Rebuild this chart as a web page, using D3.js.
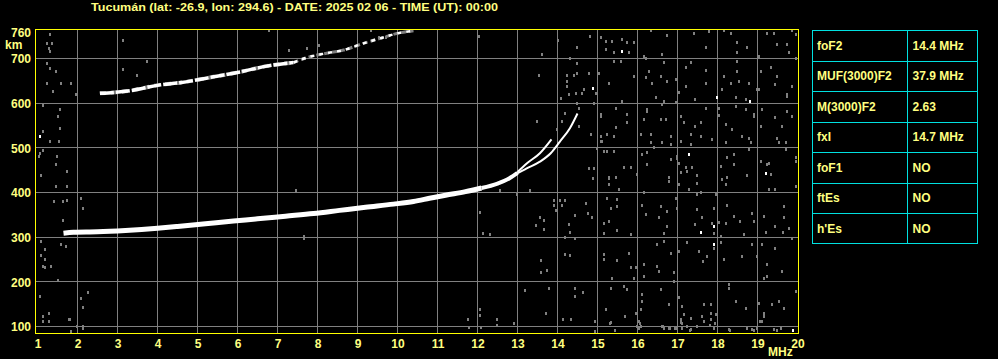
<!DOCTYPE html>
<html><head><meta charset="utf-8">
<script src="https://cdn.jsdelivr.net/npm/d3@7"></script>
<style>html,body{margin:0;padding:0;background:#000;overflow:hidden}svg{display:block}</style>
</head><body>
<svg id="chart" width="998" height="359"></svg>
<script>
// ---------- DATA ----------
const titleText = "Tucumán (lat: -26.9, lon: 294.6) - DATE: 2025 02 06 - TIME (UT): 00:00";
const freqTicks = [1,2,3,4,5,6,7,8,9,10,11,12,13,14,15,16,17,18,19,20];
const heightTicks = [760,700,600,500,400,300,200,100];
const heightGrid = [100,200,300,400,500,600,700];
const freqUnit = "MHz";
const heightUnit = "km";

// first-hop F2 trace [MHz, km]
const traceMain = [[1.65,309],[1.9,311],[2.5,312],[3.2,315],[4.0,320],[4.5,324],[5.2,330],[5.9,336],[6.5,341],[7.2,347],[7.9,353],[8.55,360],[9.2,367],[9.9,374],[10.4,380],[10.8,387],[11.2,394],[11.7,402],[12.1,410]];
const traceUpper = [[12.1,410],[12.5,420],[12.8,432],[13.0,444]];
const branchO = [[13.0,446],[13.23,465],[13.56,488],[13.85,519]];
const branchX = [[13.0,443],[13.23,454],[13.56,469],[13.83,488],[14.06,514],[14.31,544],[14.5,577]];
// second-hop trace
const hop2Solid = [[2.56,622],[3.31,628],[4.06,641],[4.56,646],[5.40,659],[6.06,670],[6.73,683],[7.40,691]];
const hop2Broken = [[7.40,691],[7.73,702],[8.23,712],[8.65,719],[9.15,734],[9.56,745],[9.98,756],[10.40,762]];

// scaled parameters table
const paramNames = ["foF2","MUF(3000)F2","M(3000)F2","fxI","foF1","ftEs","h'Es"];
const paramValues = ["14.4 MHz","37.9 MHz","2.63","14.7 MHz","NO","NO","NO"];

// isolated echoes (speckle) [MHz, km]
const specklesWhite = [[15.62,716],[17.99,612],[18.80,604],[17.28,485],[19.20,443],[17.91,324],[17.59,311],[17.91,283],[19.9,92],[1.06,525],[14.89,634]];
const specklesGray = [
[1.31,753],[1.24,734],[1.37,734],[1.28,723],[1.31,716],[1.24,689],[1.31,678],[1.45,671],[1.24,645],[1.59,645],[1.84,645],[1.39,626],[1.95,619],[1.14,594],[1.56,586],[1.51,570],[1.56,544],[1.14,536],[1.31,514],[1.53,514],[1.14,495],[1.06,488],[1.03,481],[1.49,481],[1.45,462],[1.73,447],[1.09,437],[1.45,413],[1.74,413],[1.41,380],[1.64,380],[1.74,382],[1.64,337],[1.59,283],[1.70,279],[1.09,290],[1.20,273],[1.09,260],[1.20,251],[1.14,234],[1.33,234],[1.20,231],[1.51,203],[1.06,167],[1.14,122],[1.28,128],[1.14,111],[1.28,111],[1.78,115],[1.84,89],[1.98,99],[2.13,99],
[2.09,387],[2.14,365],[2.25,176],[2.09,162],[2.14,143],[1.80,115],[2.14,96],[7.45,404],[7.65,302],[7.65,298],[12.05,355],[12.14,309],[12.30,305],[12.56,404],[12.98,395],[13.30,404],[13.56,343],[13.65,337],[13.45,326],[13.65,318],[13.92,382],[14.06,382],[14.10,372],[13.92,372],[13.97,360],[14.19,382],[14.28,328],[14.30,311],[14.19,300],[14.44,296],[14.44,348],[14.72,376],[14.77,354],[14.86,343],[13.59,248],[13.74,225],[13.59,221],[14.19,261],[14.30,258],[13.19,181],[13.79,185],[14.44,185],[14.64,176],[14.44,167],[13.70,128],[14.14,115],[14.35,115],[12.49,115],[12.90,106],[12.49,102],[12.05,137],[12.05,125],[11.76,115],[12.10,97],[11.78,97],
[6.78,762],[3.14,740],[3.74,693],[3.14,675],[3.49,663],[7.28,718],[7.74,722],[8.03,730],[9.33,762],[9.53,746],[9.70,748],[12.03,749],[14.0,740],[14.5,725],[14.8,750],[14.3,700],[13.6,710],
[13.53,663],[14.24,663],[14.41,663],[14.49,689],[14.49,667],[14.24,648],[14.24,637],[14.45,622],[14.62,622],[14.66,630],[14.28,619],[14.49,600],[14.08,611],[14.78,667],[15.03,667],[14.95,622],[15.28,645],[14.91,600],[14.53,589],[14.2,578],[14.12,559],[13.99,540],[13.49,559],[14.53,548],[14.83,529],[15.08,574],[15.12,514],[14.99,499],[15.08,525],[15.24,529],[15.24,492],[14.78,454],[14.91,454],[14.89,432],[15.28,432],
[15.08,746],[15.20,739],[15.37,739],[15.62,742],[15.74,735],[15.91,735],[16.33,762],[16.74,752],[17.41,757],[17.78,761],[18.16,762],[18.33,757],[18.49,735],[19.24,757],[19.41,757],[19.74,731],[19.87,762],[19.97,754],
[15.20,720],[15.41,713],[15.78,713],[16.16,705],[16.62,709],[17.70,724],[18.49,713],[18.74,724],[19.03,705],[19.49,731],[19.78,713],
[15.41,694],[15.59,694],[16.20,701],[16.66,690],[17.33,690],[18.49,694],[19.33,679],[19.95,701],
[16.28,671],[16.58,660],[17.20,679],[17.70,673],[18.49,671],[19.08,671],[19.49,660],
[15.28,645],[15.91,660],[16.20,657],[16.37,645],[16.74,649],[16.95,653],[17.20,638],[17.70,645],[18.16,660],[18.33,645],[18.53,649],[18.78,645],[19.03,630],[19.45,642],[19.74,619],[19.87,638],
[16.45,612],[16.66,604],[17.03,623],[17.45,608],[18.12,630],[18.45,612],[18.70,608],[18.99,630],[19.74,616],
[15.45,589],[15.62,604],[16.24,586],[16.62,597],[16.95,601],[17.70,589],[18.03,589],[18.45,593],[18.70,586],[18.91,575],[19.12,586],[19.74,582],
[15.08,571],[15.74,575],[16.16,563],[16.24,582],[16.58,563],[16.70,563],[17.08,571],[17.16,556],[17.45,548],[17.58,556],[18.03,573],[18.20,552],[18.91,571],[19.08,548],[19.45,567],[19.62,548],[19.87,571],
[15.45,545],[15.74,556],[15.24,530],[15.41,526],[16.08,530],[16.33,530],[16.83,526],[17.33,530],[17.58,526],[18.37,541],[18.62,526],[18.78,522],[19.49,522],[19.70,511],
[15.08,515],[16.33,511],[16.62,511],[16.83,507],[17.08,515],[17.33,507],[17.87,519],[18.20,511],[18.83,511],[19.53,511],
[15.16,492],[15.41,492],[16.12,484],[16.24,489],[16.41,500],[16.99,481],[16.99,476],[18.24,478],[18.41,485],[18.78,496],[19.24,463],[19.70,496],[19.97,478],
[15.66,455],[15.83,455],[16.24,463],[16.83,474],[17.03,466],[17.20,455],[17.37,455],[18.08,459],[18.41,463],[19.08,470],[19.28,466],[19.33,440],
[15.28,433],[15.45,433],[15.99,440],[16.78,433],[17.08,444],[17.24,448],[17.49,437],[18.12,429],[18.24,433],[18.74,437],[19.97,470],
[15.28,417],[15.53,406],[16.16,400],[16.78,425],[17.03,417],[17.28,406],[17.49,421],[17.49,395],[17.58,399],[17.95,395],[18.20,417],[19.28,406],[19.45,406],[19.97,413],
[15.24,387],[15.49,384],[15.49,369],[15.33,365],[16.12,372],[16.58,369],[16.74,358],[16.95,387],[16.99,365],[17.49,361],[17.91,365],[18.24,372],[18.41,346],[18.87,354],[19.16,346],[19.66,369],[19.66,343],
[15.16,331],[15.28,335],[15.49,316],[16.20,350],[16.53,343],[16.74,324],[17.45,328],[17.62,343],[17.87,331],[18.03,333],[18.20,331],[18.57,335],[18.91,335],[19.45,324],[19.78,320],
[15.16,309],[15.83,305],[16.66,309],[17.91,309],[18.08,302],[18.66,305],[19.20,311],[19.64,311],[19.87,296],
[15.16,261],[15.16,249],[15.49,248],[15.78,264],[15.83,231],[15.95,231],[16.16,238],[16.49,283],[16.49,234],[16.53,223],[16.66,290],[16.83,264],[16.91,220],[17.03,268],[17.24,287],[17.53,268],[17.64,246],[17.74,257],[17.91,275],[18.08,287],[18.16,249],[18.62,257],[18.87,283],[18.99,257],[19.12,283],[19.24,238],[19.45,275],[19.62,223],[19.24,212],[19.16,208],
[15.37,208],[15.91,208],[16.16,212],[16.91,201],
[15.33,186],[15.66,190],[15.74,182],[16.12,171],[16.12,156],[16.08,137],[16.58,182],[16.78,149],[17.03,164],[17.12,145],[17.16,126],[17.08,115],[17.33,119],[17.66,149],[17.83,149],[17.83,130],[17.83,115],[17.95,126],[18.28,193],[18.28,186],[18.45,156],[18.70,141],[19.03,152],[19.16,130],[19.16,122],[19.37,149],[19.53,156],[19.66,141],[19.95,178],
[15.20,137],[15.33,108],[15.70,122],[15.95,130],[16.03,111],[16.03,96],[16.08,100],[16.62,100],[16.66,96],[16.78,96],[16.95,96],[17.08,108],[17.12,96],[17.24,100],[17.33,93],[17.49,100],[17.62,122],[17.91,96],[18.28,93],[18.74,96],[18.87,93],[18.99,96],[19.12,111],[19.41,93],[19.58,96],
[14.94,111],[14.94,88],[15.31,106],[15.44,92],[15.98,100],[16.06,106],[16.65,100],[16.81,96],[16.94,96],[17.10,107],[17.23,100],[17.31,92],[17.65,111],[17.81,103],[17.94,106],[18.31,91],[18.73,96],[18.90,92],[19.06,111],[19.48,92]
];

// ---------- DRAW ----------
const svg = d3.select("#chart");
const W = 998, H = 359;
svg.append("rect").attr("width", W).attr("height", H).attr("fill", "#000");

const FONT = "'Liberation Sans', Arial, 'DejaVu Sans', sans-serif";
const TXT = "#ffff80";

const x = d3.scaleLinear().domain([1, 20]).range([37.5, 797.5]);
const y = d3.scaleLinear().domain([84.3, 765]).range([333.5, 29.5]);
const plot = {l: 35.5, r: 798.5, t: 29.5, b: 333.5};

// title
svg.append("text")
  .attr("x", 91).attr("y", 10.5)
  .attr("textLength", 407).attr("lengthAdjust", "spacingAndGlyphs")
  .style("font-family", FONT).style("font-weight", "bold").style("font-size", "11px")
  .attr("fill", TXT).text(titleText);

// grid
const grid = svg.append("g").attr("stroke", "#808080").attr("stroke-width", 1);
grid.selectAll("line.v").data(freqTicks.slice(1, -1)).join("line")
  .attr("x1", d => x(d)).attr("x2", d => x(d))
  .attr("y1", plot.t).attr("y2", plot.b);
grid.selectAll("line.h").data(heightGrid).join("line")
  .attr("y1", d => Math.round(y(d) - 0.5) + 0.5).attr("y2", d => Math.round(y(d) - 0.5) + 0.5)
  .attr("x1", plot.l).attr("x2", plot.r);

// speckles
const clip = svg.append("defs").append("clipPath").attr("id", "pc");
clip.append("rect").attr("x", plot.l).attr("y", plot.t).attr("width", plot.r - plot.l).attr("height", plot.b - plot.t);
const marks = svg.append("g").attr("clip-path", "url(#pc)");
marks.selectAll("rect.g").data(specklesGray).join("rect")
  .attr("x", d => Math.round(x(d[0]) - 1)).attr("y", d => Math.round(y(d[1]) - 1.5))
  .attr("width", 2).attr("height", 3).attr("fill", "#808080");
marks.selectAll("rect.w").data(specklesWhite).join("rect")
  .attr("x", d => Math.round(x(d[0]) - 1)).attr("y", d => Math.round(y(d[1]) - 1.5))
  .attr("width", 2).attr("height", 3).attr("fill", "#ffffff");

// traces
const line = d3.line().x(d => x(d[0])).y(d => y(d[1])).curve(d3.curveMonotoneX);
function trace(data, w, color, dash) {
  const p = marks.append("path").attr("d", line(data)).attr("fill", "none")
    .attr("stroke", color).attr("stroke-width", w).attr("stroke-linejoin", "round");
  if (dash) p.attr("stroke-dasharray", dash);
  return p;
}
trace(hop2Solid, 4, "#808080", "6,5");
trace(hop2Solid, 3.5, "#ffffff", "14,2");
trace(hop2Broken, 3, "#808080", "5,3");
trace(hop2Broken, 2.5, "#ffffff", "4,5");
trace(traceMain, 5, "#ffffff");
trace(traceUpper, 4, "#ffffff");
trace(branchO, 2, "#ffffff");
trace(branchX, 2, "#ffffff");

// border
svg.append("rect").attr("x", plot.l).attr("y", plot.t)
  .attr("width", plot.r - plot.l).attr("height", plot.b - plot.t)
  .attr("fill", "none").attr("stroke", "#ffff00").attr("stroke-width", 1);

// axes
const xAxis = svg.append("g").attr("transform", "translate(0,339)")
  .call(d3.axisBottom(x).tickValues(freqTicks).tickSize(0).tickPadding(0).tickFormat(d3.format("d")));
const yAxis = svg.append("g").attr("transform", "translate(31,0)")
  .call(d3.axisLeft(y).tickValues(heightTicks).tickSize(0).tickPadding(0).tickFormat(d3.format("d")));
[xAxis, yAxis].forEach(a => {
  a.select(".domain").remove();
  a.selectAll("text").attr("fill", TXT)
    .style("font-family", FONT).style("font-weight", "bold").style("font-size", "12px");
});
xAxis.selectAll("text").attr("dy", "0.71em").attr("y", 0);
yAxis.selectAll("text").attr("dy", "0.36em").attr("x", 0);

svg.append("text").attr("x", 5).attr("y", 49)
  .style("font-family", FONT).style("font-weight", "bold").style("font-size", "12px")
  .attr("fill", TXT).text(heightUnit);
svg.append("text").attr("x", 768).attr("y", 355.5)
  .style("font-family", FONT).style("font-weight", "bold").style("font-size", "12px")
  .attr("fill", TXT).text(freqUnit);

// table
const tbl = {l: 812.5, m: 907.5, r: 977.5, t: 30.5, b: 243.5};
const rows = d3.scaleBand().domain(paramNames).range([tbl.t, tbl.b]);
const tg = svg.append("g");
tg.append("rect").attr("x", tbl.l).attr("y", tbl.t).attr("width", tbl.r - tbl.l).attr("height", tbl.b - tbl.t)
  .attr("fill", "none").attr("stroke", "#00e0e0");
tg.append("line").attr("x1", tbl.m).attr("x2", tbl.m).attr("y1", tbl.t).attr("y2", tbl.b).attr("stroke", "#00e0e0");
tg.selectAll("line.r").data(paramNames.slice(1)).join("line")
  .attr("x1", tbl.l).attr("x2", tbl.r)
  .attr("y1", d => Math.round(rows(d)) + 0.5).attr("y2", d => Math.round(rows(d)) + 0.5)
  .attr("stroke", "#00e0e0");
tg.selectAll("text.n").data(paramNames).join("text")
  .attr("x", 817).attr("y", d => rows(d) + rows.bandwidth() / 2).attr("dy", "0.36em")
  .style("font-family", FONT).style("font-weight", "bold").style("font-size", "12px")
  .attr("fill", TXT).text(d => d);
tg.selectAll("text.v").data(paramValues).join("text")
  .attr("x", 912.5).attr("y", (d, i) => rows(paramNames[i]) + rows.bandwidth() / 2).attr("dy", "0.36em")
  .style("font-family", FONT).style("font-weight", "bold").style("font-size", "12px")
  .attr("fill", TXT).text(d => d);
</script>
</body></html>
